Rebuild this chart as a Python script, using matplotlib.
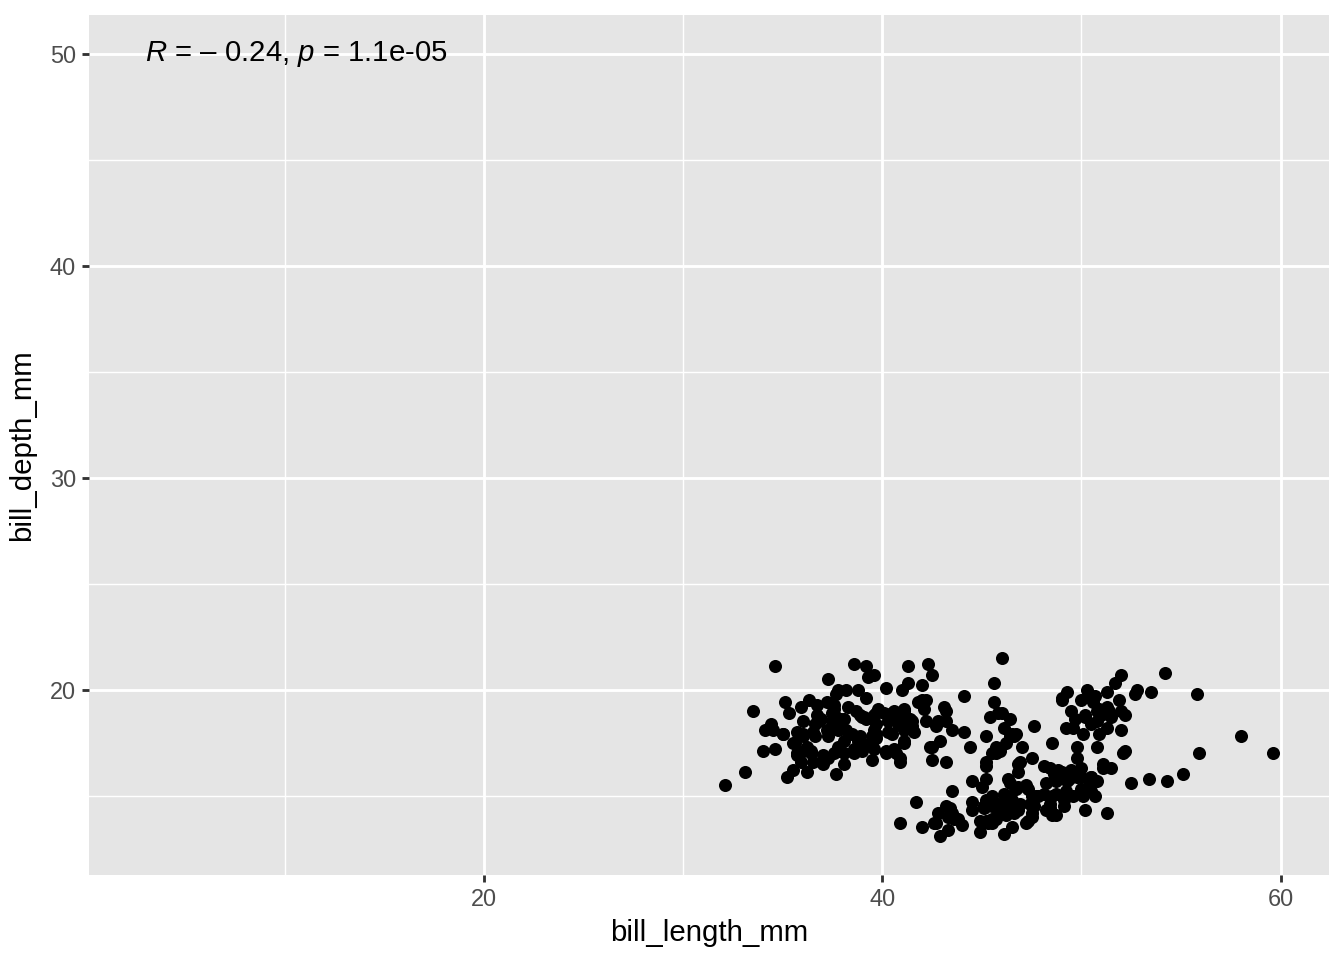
import numpy as np
import matplotlib
matplotlib.use("Agg")
import matplotlib.pyplot as plt
from matplotlib.ticker import MultipleLocator

plt.rcParams['font.family'] = ['Liberation Sans', 'DejaVu Sans']
plt.rcParams['mathtext.fontset'] = 'custom'
plt.rcParams['mathtext.it'] = 'Liberation Sans:italic'
plt.rcParams['mathtext.rm'] = 'Liberation Sans'

# adelie
adelie_len = [39.1, 39.5, 40.3, 36.7, 39.3, 38.9, 39.2, 34.1, 42.0, 37.8, 37.8, 41.1, 38.6, 34.6, 36.6, 38.7,
              42.5, 34.4, 46.0, 37.8, 37.7, 35.9, 38.2, 38.8, 35.3, 40.6, 40.5, 37.9, 40.5, 39.5, 37.2, 39.5,
              40.9, 36.4, 39.2, 38.8, 42.2, 37.6, 39.8, 36.5, 40.8, 36.0, 44.1, 37.0, 39.6, 41.1, 37.5, 36.0,
              42.3, 39.6, 40.1, 35.0, 42.0, 34.5, 41.4, 39.0, 40.6, 36.5, 37.6, 35.7, 41.3, 37.6, 41.1, 36.4,
              41.6, 35.5, 41.1, 35.9, 41.8, 33.5, 39.7, 39.6, 45.8, 35.5, 42.8, 40.9, 37.2, 36.2, 42.1, 34.6,
              42.9, 36.7, 35.1, 37.3, 41.3, 36.3, 36.9, 38.3, 38.9, 35.7, 41.1, 34.0, 39.6, 36.2, 40.8, 38.1,
              40.3, 33.1, 43.2, 35.0, 41.0, 37.7, 37.8, 37.9, 39.7, 38.6, 38.2, 38.1, 43.2, 38.1, 45.6, 39.7,
              42.2, 39.6, 42.7, 38.6, 37.3, 35.7, 41.1, 36.2, 37.7, 40.2, 41.4, 35.2, 40.6, 38.8, 41.5, 39.0,
              44.1, 38.5, 43.1, 36.8, 37.5, 38.1, 41.1, 35.6, 40.2, 37.0, 39.7, 40.2, 40.6, 32.1, 40.7, 37.3,
              39.0, 39.2, 36.6, 36.0, 37.8, 36.0, 41.5]
adelie_dep = [18.7, 17.4, 18.0, 19.3, 20.6, 17.8, 19.6, 18.1, 20.2, 17.1, 17.3, 17.6, 21.2, 21.1, 17.8, 19.0,
              20.7, 18.4, 21.5, 18.3, 18.7, 19.2, 18.1, 17.2, 18.9, 18.6, 17.9, 18.6, 18.9, 16.7, 18.1, 17.8,
              18.9, 17.0, 21.1, 20.0, 18.5, 19.3, 19.1, 18.0, 18.4, 18.5, 19.7, 16.9, 18.8, 19.0, 18.9, 17.9,
              21.2, 17.7, 18.9, 17.9, 19.5, 18.1, 18.6, 17.5, 18.8, 16.6, 19.1, 16.9, 21.1, 17.0, 18.2, 17.1,
              18.0, 16.2, 19.1, 16.6, 19.4, 19.0, 18.4, 17.2, 18.9, 17.5, 18.5, 16.8, 19.4, 16.1, 19.1, 17.2,
              17.6, 18.8, 19.4, 17.8, 20.3, 19.5, 18.6, 19.2, 18.8, 18.0, 18.1, 17.1, 18.1, 17.3, 18.9, 18.6,
              18.5, 16.1, 18.5, 17.9, 20.0, 16.0, 20.0, 18.6, 18.9, 17.2, 20.0, 17.0, 19.0, 16.5, 20.3, 17.7,
              19.5, 20.7, 18.3, 17.0, 20.5, 17.0, 18.6, 17.2, 19.8, 17.0, 18.5, 15.9, 19.0, 17.6, 18.3, 17.1,
              18.0, 17.9, 19.2, 18.5, 18.5, 17.6, 17.5, 17.5, 20.1, 16.5, 17.9, 17.1, 17.2, 15.5, 17.0, 16.8,
              18.7, 18.6, 18.4, 17.8, 18.1, 17.1, 18.5]

# gentoo
gentoo_len = [46.1, 50.0, 48.7, 50.0, 47.6, 46.5, 45.4, 46.7, 43.3, 46.8, 40.9, 49.0, 45.5, 48.4, 45.8, 49.3,
              42.0, 49.2, 46.2, 48.7, 50.2, 45.1, 46.5, 46.3, 42.9, 46.1, 44.5, 47.8, 48.2, 50.0, 47.3, 42.8,
              45.1, 59.6, 49.1, 48.4, 42.6, 44.4, 44.0, 48.7, 42.7, 49.6, 45.3, 49.6, 50.5, 43.6, 45.5, 50.5,
              44.9, 45.2, 46.6, 48.5, 45.1, 50.1, 46.5, 45.0, 43.8, 45.5, 43.2, 50.4, 45.3, 46.2, 45.7, 54.3,
              45.8, 49.8, 46.2, 49.5, 43.5, 50.7, 47.7, 46.4, 48.2, 46.5, 46.4, 48.6, 47.5, 51.1, 45.2, 45.2,
              49.1, 52.5, 47.4, 50.0, 44.9, 50.8, 43.4, 51.3, 47.5, 52.1, 47.5, 52.2, 45.5, 49.5, 44.5, 50.8,
              49.4, 46.9, 48.4, 51.1, 48.5, 55.9, 47.2, 49.1, 47.3, 46.8, 41.7, 53.4, 43.3, 48.1, 50.5, 49.8,
              43.5, 51.5, 46.2, 55.1, 44.5, 48.8, 47.2, 46.8, 50.4, 45.2, 49.9]
gentoo_dep = [13.2, 16.3, 14.1, 15.2, 14.5, 13.5, 14.6, 15.3, 13.4, 15.4, 13.7, 16.1, 13.7, 14.6, 14.6, 15.7,
              13.5, 15.2, 14.5, 15.1, 14.3, 14.5, 14.5, 15.8, 13.1, 15.1, 14.3, 15.0, 14.3, 15.3, 15.3, 14.2,
              14.5, 17.0, 14.8, 16.3, 13.7, 17.3, 13.6, 15.7, 13.7, 16.0, 13.7, 15.0, 15.9, 13.9, 13.9, 15.9,
              13.3, 15.8, 14.2, 14.1, 14.4, 15.0, 14.4, 15.4, 13.9, 15.0, 14.5, 15.3, 13.8, 14.9, 13.9, 15.7,
              14.2, 16.8, 14.4, 16.2, 14.2, 15.0, 15.0, 15.6, 15.6, 14.8, 15.0, 16.0, 14.2, 16.3, 13.8, 16.4,
              14.5, 15.6, 14.6, 15.9, 13.8, 17.3, 14.4, 14.2, 14.0, 17.0, 15.0, 17.1, 14.5, 16.1, 14.7, 15.7,
              15.8, 14.6, 14.4, 16.5, 15.0, 17.0, 15.5, 15.0, 13.8, 16.1, 14.7, 15.8, 14.0, 15.1, 15.2, 15.9,
              15.2, 16.3, 14.1, 16.0, 15.7, 16.2, 13.7, 14.3, 15.7, 14.8, 16.1]

# chinstrap
chin_len = [46.5, 50.0, 51.3, 45.4, 52.7, 45.2, 46.1, 51.3, 46.0, 51.3, 46.6, 51.7, 47.0, 52.0, 45.9, 50.5,
            50.3, 58.0, 46.4, 49.2, 42.4, 48.5, 43.2, 50.6, 46.7, 52.0, 50.5, 49.5, 46.4, 52.8, 40.9, 54.2,
            42.5, 51.0, 49.7, 47.5, 47.6, 52.0, 46.9, 53.5, 49.0, 46.2, 50.9, 45.5, 50.9, 50.8, 50.1, 49.0,
            51.5, 49.8, 48.1, 51.4, 45.7, 50.7, 42.5, 52.2, 45.2, 49.3, 50.2, 45.6, 51.9, 46.8, 45.7, 55.8,
            43.5, 49.6, 50.8, 50.2]
chin_dep = [17.9, 19.5, 19.2, 18.7, 19.8, 17.8, 18.2, 18.2, 18.9, 19.9, 17.8, 20.3, 17.3, 18.1, 17.1, 19.6,
            20.0, 17.8, 18.6, 18.2, 17.3, 17.5, 16.6, 19.4, 17.9, 19.0, 18.4, 19.0, 17.8, 20.0, 16.6, 20.8,
            16.7, 18.8, 18.6, 16.8, 18.3, 20.7, 16.6, 19.9, 19.5, 17.5, 19.1, 17.0, 17.9, 18.5, 17.9, 19.6,
            18.7, 17.3, 16.4, 19.0, 17.3, 19.7, 17.3, 18.8, 16.6, 19.9, 18.8, 19.4, 19.5, 16.5, 17.0, 19.8,
            18.1, 18.2, 19.0, 18.7]

label = "$\\it{R}$ = \u2013 0.24, $\\it{p}$ = 1.1e-05"
label_xy = (3, 50)

x = np.array(adelie_len + gentoo_len + chin_len)
y = np.array(adelie_dep + gentoo_dep + chin_dep)

fig = plt.figure(figsize=(7, 5), dpi=192)
ax = fig.add_axes([89 / 1344, 1 - 875 / 960, (1329 - 89) / 1344, (875 - 15) / 960])
ax.set_facecolor('#E5E5E5')

ax.scatter(x, y, s=24, color='black', linewidths=0, zorder=3)
ax.text(label_xy[0], label_xy[1], label, ha='left', va='center', fontsize=11, color='black', zorder=4)

# expand like ggplot (5% of data range incl. label position)
xmin, xmax = min(x.min(), label_xy[0]), x.max()
ymin, ymax = y.min(), max(y.max(), label_xy[1])
dx, dy = (xmax - xmin) * 0.05, (ymax - ymin) * 0.05
ax.set_xlim(xmin - dx, xmax + dx)
ax.set_ylim(ymin - dy, ymax + dy)

ax.xaxis.set_major_locator(MultipleLocator(20))
ax.xaxis.set_minor_locator(MultipleLocator(10))
ax.yaxis.set_major_locator(MultipleLocator(10))
ax.yaxis.set_minor_locator(MultipleLocator(5))
ax.grid(which='major', color='white', linewidth=1.07)
ax.grid(which='minor', color='white', linewidth=0.53)
ax.set_axisbelow(True)
for s in ax.spines.values():
    s.set_visible(False)
ax.tick_params(which='major', length=2.75, width=1.07, color='#333333', labelsize=8.8,
               labelcolor='#4D4D4D', pad=2.2)
ax.tick_params(which='minor', length=0)

ax.set_xlabel('bill_length_mm', fontsize=11, labelpad=3)
ax.set_ylabel('bill_depth_mm', fontsize=11, labelpad=5)

fig.savefig('out.png', dpi=192)
